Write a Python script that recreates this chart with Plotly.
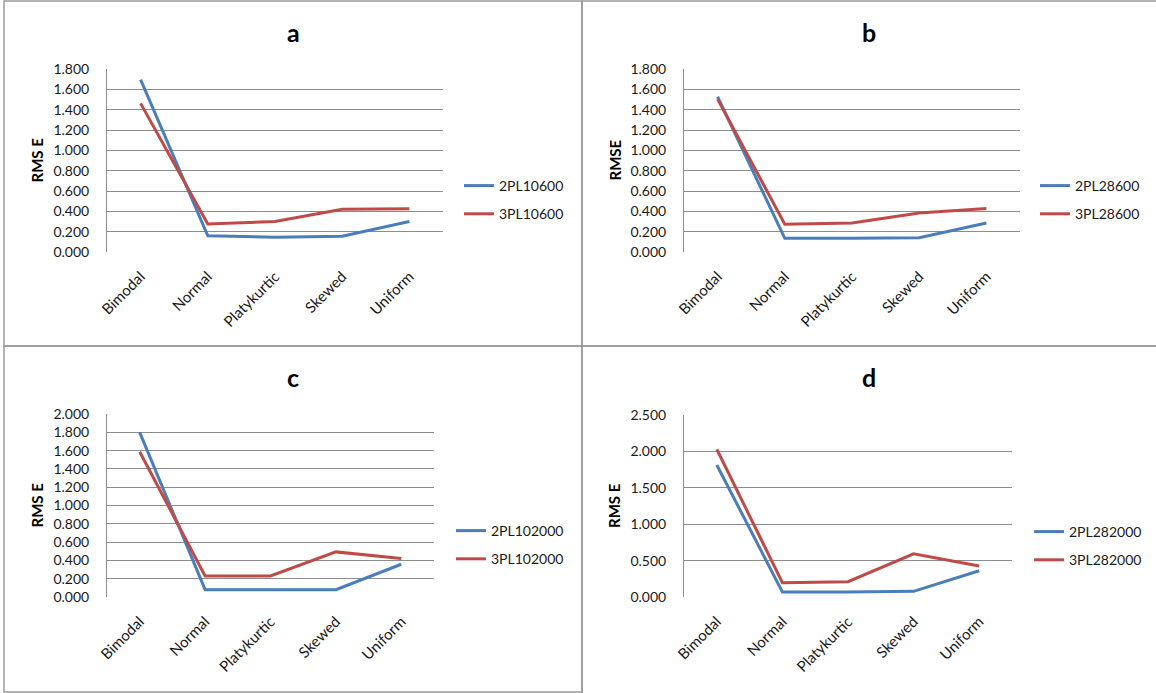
import plotly.graph_objects as go

W, H = 1156, 693

categories = ["Bimodal", "Normal", "Platykurtic", "Skewed", "Uniform"]

# RMSE per latent distribution, one pair of series per panel
a_2pl = [1.695, 0.160, 0.145, 0.155, 0.300]
a_3pl = [1.462, 0.275, 0.300, 0.420, 0.426]
b_2pl = [1.527, 0.135, 0.135, 0.140, 0.285]
b_3pl = [1.504, 0.273, 0.285, 0.384, 0.427]
c_2pl = [1.800, 0.080, 0.080, 0.080, 0.358]
c_3pl = [1.588, 0.230, 0.230, 0.493, 0.420]
d_2pl = [1.814, 0.069, 0.070, 0.078, 0.360]
d_3pl = [2.030, 0.197, 0.210, 0.594, 0.425]

series_names = [
    ("2PL10600", "3PL10600"),
    ("2PL28600", "3PL28600"),
    ("2PL102000", "3PL102000"),
    ("2PL282000", "3PL282000"),
]
panel_titles = ["a", "b", "c", "d"]
y_titles = ["RMS E", "RMSE", "RMS E", "RMS E"]
y_max = [1.8, 1.8, 2.0, 2.5]
y_step = [0.2, 0.2, 0.2, 0.5]

BLUE = "#4A7EBB"
RED = "#BE4B48"
GRID = "#8C8C8C"
FONT = "Lato"
TEXT = "#1A1A1A"


def px_x(v):
    return v / W


def px_y(v):
    return 1 - v / H


# plot areas in pixels: (x0, x1, ytop, ybottom)
areas = [
    (107, 443, 69, 252),
    (684, 1020, 69, 252),
    (107, 434, 414, 597),
    (684, 1012, 415, 597),
]
# panel frames in pixels: (x0, y0, x1, y1)
frames = [
    (4, 1, 582, 346),
    (582, 1, 1160, 346),
    (4, 346, 582, 692),
    (582, 346, 1160, 697),
]
# legend text start and first item centre, pixels
legend_pos = [(499, 183), (1075, 183), (491, 528), (1069, 529)]

data = [(a_2pl, a_3pl), (b_2pl, b_3pl), (c_2pl, c_3pl), (d_2pl, d_3pl)]

fig = go.Figure()
layout = dict(
    width=W,
    height=H,
    margin=dict(l=0, r=0, t=0, b=0, autoexpand=False),
    paper_bgcolor="white",
    plot_bgcolor="white",
    font=dict(family=FONT, size=14, color=TEXT),
    shapes=[],
    annotations=[],
)

for i in range(4):
    n = "" if i == 0 else str(i + 1)
    xa, ya = "x" + n, "y" + n
    lg = "legend" + n
    s2, s3 = data[i]
    nm2, nm3 = series_names[i]
    fig.add_trace(go.Scatter(
        x=categories, y=s2, name=nm2, mode="lines",
        line=dict(color=BLUE, width=3), xaxis=xa, yaxis=ya,
        legend=lg, legendgroup=nm2,
    ))
    fig.add_trace(go.Scatter(
        x=categories, y=s3, name=nm3, mode="lines",
        line=dict(color=RED, width=3), xaxis=xa, yaxis=ya,
        legend=lg, legendgroup=nm3,
    ))

    x0, x1, yt, yb = areas[i]
    layout["xaxis" + n] = dict(
        domain=[px_x(x0), px_x(x1)],
        anchor=ya,
        type="category",
        range=[-0.5, 4.5],
        automargin=False,
        showgrid=False,
        showline=False,
        zeroline=False,
        tickangle=-45,
        ticklabelstandoff=12,
        tickfont=dict(family=FONT, size=15, color=TEXT),
        ticks="",
    )
    layout["yaxis" + n] = dict(
        domain=[px_y(yb), px_y(yt)],
        anchor=xa,
        range=[0, y_max[i]],
        dtick=y_step[i],
        tick0=0,
        tickformat=".3f",
        automargin=False,
        showgrid=True,
        gridcolor=GRID,
        gridwidth=1,
        showline=True,
        linecolor=GRID,
        linewidth=1,
        zeroline=False,
        ticks="",
        ticklabelstandoff=14,
        tickfont=dict(family=FONT, size=14, color=TEXT),
    )

    tx, ty = legend_pos[i]
    layout[lg] = dict(
        x=px_x(tx - 40),
        y=px_y(ty - 13),
        xanchor="left",
        yanchor="top",
        bgcolor="rgba(0,0,0,0)",
        font=dict(family=FONT, size=14, color=TEXT),
        tracegroupgap=7,
        itemwidth=30,
    )

    fx0, fy0, fx1, fy1 = frames[i]
    layout["shapes"].append(dict(
        type="rect", xref="paper", yref="paper",
        x0=px_x(fx0), x1=px_x(fx1), y0=px_y(fy1), y1=px_y(fy0),
        line=dict(color="#9A9A9A", width=1.5), fillcolor="rgba(0,0,0,0)",
        layer="below",
    ))

    # panel title, centred on the visible part of the panel
    cx = (fx0 + min(fx1, W)) / 2
    layout["annotations"].append(dict(
        text="<b>" + panel_titles[i] + "</b>",
        xref="paper", yref="paper",
        x=px_x(cx), y=px_y(fy0 + 31),
        xanchor="center", yanchor="middle",
        showarrow=False,
        font=dict(family=FONT, size=25, color="#000000"),
    ))
    # y axis title
    layout["annotations"].append(dict(
        text="<b>" + y_titles[i] + "</b>",
        xref="paper", yref="paper",
        x=px_x(fx0 + 32), y=px_y((yt + yb) / 2),
        xanchor="center", yanchor="middle",
        textangle=-90, showarrow=False,
        font=dict(family=FONT, size=15, color="#000000"),
    ))

fig.update_layout(**layout)
fig.write_html("out.html")
